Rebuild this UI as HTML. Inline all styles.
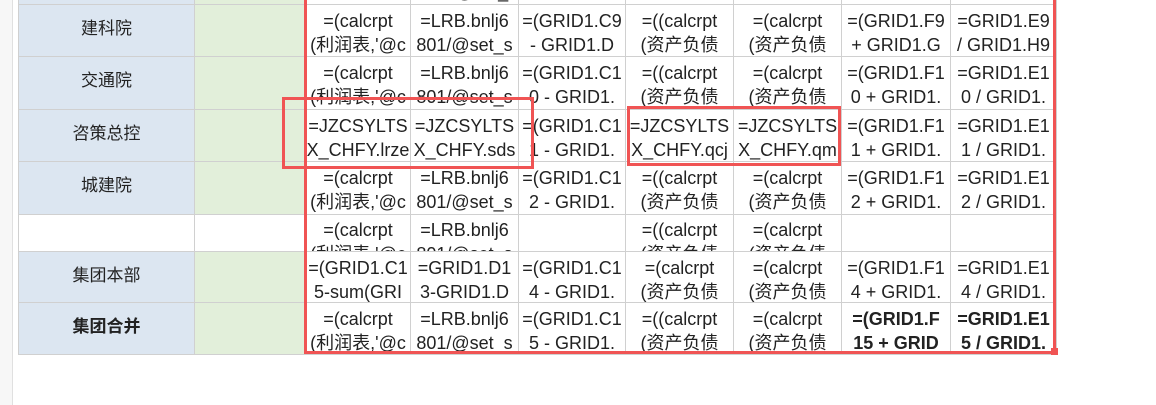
<!DOCTYPE html>
<html><head><meta charset="utf-8"><style>
body{margin:0;width:1156px;height:405px;background:#fff;position:relative;overflow:hidden;font-family:"Liberation Sans","Noto Sans CJK SC",sans-serif;}
.strip{position:absolute;left:0;top:0;width:12px;height:405px;background:#f7f7f7;border-right:1px solid #e0e0e0;}
table{position:absolute;left:18px;top:-49px;border-collapse:collapse;table-layout:fixed;}
td{border:1px solid #d0d0d0;padding:0;vertical-align:top;}
td div{overflow:hidden;white-space:nowrap;text-align:center;font-size:18px;line-height:24px;color:#222;padding-top:4px;box-sizing:border-box;}
tr.r td div{height:51.5px;}
tr.s td div{height:36px;padding-top:3px;}
tr.t td div{height:50px;}
.a{background:#dce6f1;}
.b{background:#e2efda;}
.a div{font-size:17px;line-height:48px;padding-top:0;}
.bold{font-weight:bold;}
.red{position:absolute;border:3px solid #f05454;}
</style></head><body>
<div class="strip"></div>
<table>
<colgroup><col style="width:176px"><col style="width:111px"><col style="width:105px"><col style="width:108px"><col style="width:107px"><col style="width:108px"><col style="width:108px"><col style="width:109px"><col style="width:106px"></colgroup>
<tr class="r"><td class="a"><div></div></td><td class="b"><div></div></td><td><div></div></td><td><div><br>801/@set_</div></td><td><div></div></td><td><div></div></td><td><div></div></td><td><div></div></td><td><div></div></td></tr>
<tr class="r"><td class="a"><div>建科院</div></td><td class="b"><div></div></td><td><div>=(calcrpt<br>(利润表,'@c</div></td><td><div>=LRB.bnlj6<br>801/@set_s</div></td><td><div>=(GRID1.C9<br>- GRID1.D</div></td><td><div>=((calcrpt<br>(资产负债</div></td><td><div>=(calcrpt<br>(资产负债</div></td><td><div>=(GRID1.F9<br>+ GRID1.G</div></td><td><div>=GRID1.E9<br>/ GRID1.H9</div></td></tr>
<tr class="r"><td class="a"><div>交通院</div></td><td class="b"><div></div></td><td><div>=(calcrpt<br>(利润表,'@c</div></td><td><div>=LRB.bnlj6<br>801/@set_s</div></td><td><div>=(GRID1.C1<br>0 - GRID1.</div></td><td><div>=((calcrpt<br>(资产负债</div></td><td><div>=(calcrpt<br>(资产负债</div></td><td><div>=(GRID1.F1<br>0 + GRID1.</div></td><td><div>=GRID1.E1<br>0 / GRID1.</div></td></tr>
<tr class="r"><td class="a"><div>咨策总控</div></td><td class="b"><div></div></td><td><div>=JZCSYLTS<br>X_CHFY.lrze</div></td><td><div>=JZCSYLTS<br>X_CHFY.sds</div></td><td><div>=(GRID1.C1<br>1 - GRID1.</div></td><td><div>=JZCSYLTS<br>X_CHFY.qcj</div></td><td><div>=JZCSYLTS<br>X_CHFY.qm</div></td><td><div>=(GRID1.F1<br>1 + GRID1.</div></td><td><div>=GRID1.E1<br>1 / GRID1.</div></td></tr>
<tr class="r"><td class="a"><div>城建院</div></td><td class="b"><div></div></td><td><div>=(calcrpt<br>(利润表,'@c</div></td><td><div>=LRB.bnlj6<br>801/@set_s</div></td><td><div>=(GRID1.C1<br>2 - GRID1.</div></td><td><div>=((calcrpt<br>(资产负债</div></td><td><div>=(calcrpt<br>(资产负债</div></td><td><div>=(GRID1.F1<br>2 + GRID1.</div></td><td><div>=GRID1.E1<br>2 / GRID1.</div></td></tr>
<tr class="s"><td><div></div></td><td><div></div></td><td><div>=(calcrpt<br>(利润表,'@c</div></td><td><div>=LRB.bnlj6<br>801/@set_s</div></td><td><div></div></td><td><div>=((calcrpt<br>(资产负债</div></td><td><div>=(calcrpt<br>(资产负债</div></td><td><div></div></td><td><div></div></td></tr>
<tr class="t"><td class="a"><div>集团本部</div></td><td class="b"><div></div></td><td><div>=(GRID1.C1<br>5-sum(GRI</div></td><td><div>=GRID1.D1<br>3-GRID1.D</div></td><td><div>=(GRID1.C1<br>4 - GRID1.</div></td><td><div>=(calcrpt<br>(资产负债</div></td><td><div>=(calcrpt<br>(资产负债</div></td><td><div>=(GRID1.F1<br>4 + GRID1.</div></td><td><div>=GRID1.E1<br>4 / GRID1.</div></td></tr>
<tr class="r"><td class="a"><div class="bold">集团合并</div></td><td class="b"><div></div></td><td><div>=(calcrpt<br>(利润表,'@c</div></td><td><div>=LRB.bnlj6<br>801/@set_s</div></td><td><div>=(GRID1.C1<br>5 - GRID1.</div></td><td><div>=((calcrpt<br>(资产负债</div></td><td><div>=(calcrpt<br>(资产负债</div></td><td><div class="bold">=(GRID1.F<br>15 + GRID</div></td><td><div class="bold">=GRID1.E1<br>5 / GRID1.</div></td></tr>
</table>
<div class="red" style="left:304px;top:-10px;width:746px;height:358px;"></div>
<div style="position:absolute;left:1051px;top:348px;width:7px;height:7px;background:#f05454;"></div>
<div class="red" style="left:282px;top:97px;width:246px;height:66px;"></div>
<div class="red" style="left:627px;top:106px;width:208px;height:54px;"></div>
</body></html>
